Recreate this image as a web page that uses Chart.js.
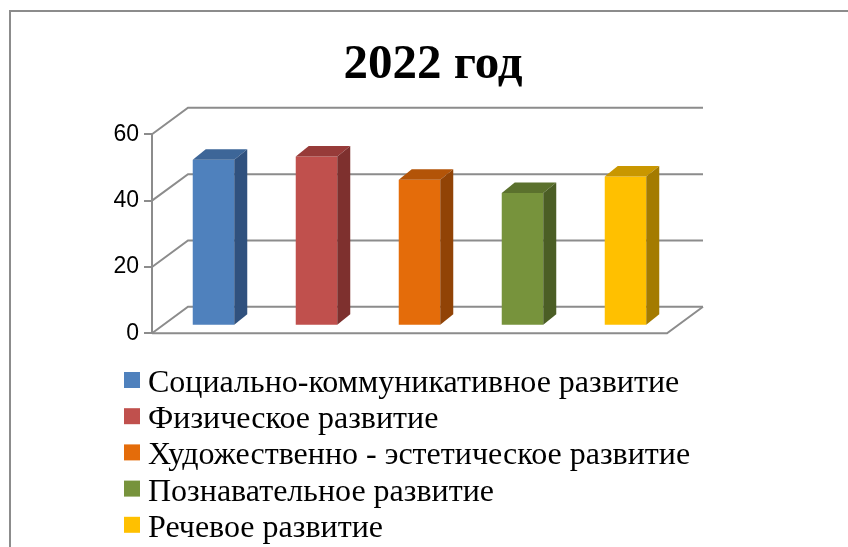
<!DOCTYPE html>
<html>
<head>
<meta charset="utf-8">
<script src="https://cdn.jsdelivr.net/npm/chart.js@4"></script>
<style>
  body { margin: 0; background: #fff; }
  canvas { display: block; }
</style>
</head>
<body>
<canvas id="chart" width="848" height="547"></canvas>
<script>
const chartTitle = "2022 год";
const categories = ["2022 год"];
const seriesNames = [
    "Социально-коммуникативное развитие",
    "Физическое развитие",
    "Художественно - эстетическое развитие",
    "Познавательное развитие",
    "Речевое развитие"
];
const seriesValues = [50, 51, 44, 40, 45];
const frontColors = ["#4F81BD", "#C0504D", "#E46C0A", "#77933C", "#FFC000"];
const topColors = ["#3D6698", "#973B39", "#B35408", "#5B712D", "#C99700"];
const sideColors = ["#30517E", "#7E302E", "#914306", "#4B5E25", "#A47B00"];
const yTicks = [0, 20, 40, 60];

// depth of the whole plot box and of each bar (pseudo 3D)
const wallDX = 36, wallDY = -26.5;
const barOffX = 10, barOffY = -7.6;
const barDX = 13, barDY = -10.5;
const lineGray = "#8c8c8c";

const threeD = {
    id: "threeD",
    beforeDraw(chart) {
        let ctx = chart.ctx;
        ctx.save();
        ctx.strokeStyle = lineGray;
        ctx.lineWidth = 2;
        ctx.beginPath();
        ctx.moveTo(10, 547);
        ctx.lineTo(10, 11);
        ctx.lineTo(848, 11);
        ctx.stroke();
        // title
        ctx.fillStyle = "#000";
        ctx.font = "bold 49px 'Liberation Serif'";
        ctx.textAlign = "center";
        ctx.textBaseline = "alphabetic";
        ctx.fillText(chartTitle, 433, 78);
        ctx.restore();
    },
    beforeDatasetsDraw(chart) {
        let ctx = chart.ctx;
        let area = chart.chartArea;
        let y = chart.scales.y;
        ctx.save();
        ctx.strokeStyle = lineGray;
        ctx.lineWidth = 2;
        yTicks.forEach(v => {
            let py = y.getPixelForValue(v);
            ctx.beginPath();
            ctx.moveTo(area.left, py);
            ctx.lineTo(area.left + wallDX, py + wallDY);
            ctx.lineTo(area.right + wallDX, py + wallDY);
            ctx.stroke();
        });
        // floor front and right edges
        ctx.beginPath();
        ctx.moveTo(area.left, area.bottom);
        ctx.lineTo(area.right, area.bottom);
        ctx.lineTo(area.right + wallDX, area.bottom + wallDY);
        ctx.stroke();
        ctx.restore();

        ctx.save();
        ctx.translate(barOffX, barOffY);
    },
    afterDatasetsDraw(chart) {
        let ctx = chart.ctx;
        chart.data.datasets.forEach((ds, i) => {
            let meta = chart.getDatasetMeta(i);
            meta.data.forEach(bar => {
                let p = bar.getProps(["x", "y", "base", "width"], true);
                let l = p.x - p.width / 2, r = p.x + p.width / 2;
                ctx.fillStyle = topColors[i];
                ctx.beginPath();
                ctx.moveTo(l, p.y);
                ctx.lineTo(r, p.y);
                ctx.lineTo(r + barDX, p.y + barDY);
                ctx.lineTo(l + barDX, p.y + barDY);
                ctx.closePath();
                ctx.fill();
                ctx.fillStyle = sideColors[i];
                ctx.beginPath();
                ctx.moveTo(r, p.y);
                ctx.lineTo(r + barDX, p.y + barDY);
                ctx.lineTo(r + barDX, p.base + barDY);
                ctx.lineTo(r, p.base);
                ctx.closePath();
                ctx.fill();
            });
        });
        ctx.restore();
    },
    afterDraw(chart) {
        // legend: one item per line, left aligned
        let ctx = chart.ctx;
        ctx.save();
        ctx.font = "32px 'Liberation Serif'";
        ctx.textBaseline = "alphabetic";
        ctx.textAlign = "left";
        chart.data.datasets.forEach((ds, i) => {
            let cy = 380 + i * 36.2;
            ctx.fillStyle = frontColors[i];
            ctx.fillRect(124, cy - 8, 16, 16);
            ctx.fillStyle = "#000";
            ctx.fillText(ds.label, 148, cy + 12);
        });
        ctx.restore();
    }
};

new Chart(document.getElementById("chart"), {
    type: "bar",
    data: {
        labels: categories,
        datasets: seriesNames.map((name, i) => ({
            label: name,
            data: [seriesValues[i]],
            backgroundColor: frontColors[i],
            borderWidth: 0
        }))
    },
    options: {
        responsive: false,
        animation: false,
        devicePixelRatio: 1,
        categoryPercentage: 1.0,
        barPercentage: 0.403,
        layout: { padding: { left: 0, right: 181, top: 134.3, bottom: 213.7 } },
        plugins: {
            legend: { display: false },
            tooltip: { enabled: false },
            title: { display: false }
        },
        scales: {
            x: { display: false },
            y: {
                min: 0,
                max: 60,
                afterFit(scale) { scale.width = 152; },
                afterBuildTicks(scale) { scale.ticks = yTicks.map(v => ({ value: v })); },
                grid: { drawOnChartArea: false, drawTicks: true, tickLength: 8, color: lineGray, lineWidth: 2 },
                border: { display: true, color: lineGray, width: 2 },
                ticks: { color: "#000", padding: 5, font: { family: "'Liberation Sans'", size: 23 } }
            }
        }
    },
    plugins: [threeD]
});
</script>
</body>
</html>
